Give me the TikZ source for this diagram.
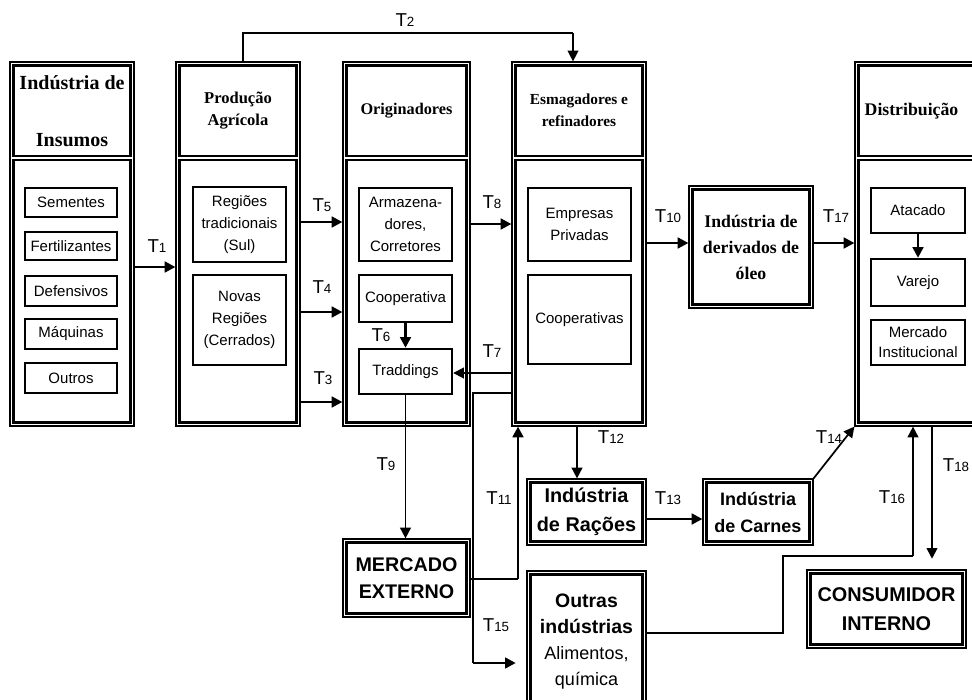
\documentclass[tikz,border=0pt]{standalone}
\usepackage{fontspec}
\setmainfont{Liberation Sans}
\newfontfamily\hdrfont{Liberation Serif}
\usetikzlibrary{arrows.meta}
\newcommand\tlab[1]{{\fontsize{14}{14}\selectfont T}{\fontsize{10}{10}\selectfont #1}}
\newcommand\bigb[1]{{\bfseries\fontsize{14.6}{21.5}\selectfont #1}}
\begin{document}
\begin{tikzpicture}[x=0.75pt,y=-0.75pt,
  bx/.style n args={4}{inner sep=0pt,at={({(#1+#3)/2},{(#2+#4)/2})},
    minimum width={(#3-#1)*0.75pt},minimum height={(#4-#2)*0.75pt}},
  obox/.style={draw,line width=0.9pt},
  ibox/.style={draw,line width=1.8pt,align=center},
  itm/.style={draw,line width=1.8pt,align=center,
    font=\fontsize{11.25}{16.5}\selectfont},
  hdr/.style={font=\hdrfont\bfseries\fontsize{#1}{16.5}\selectfont},
  tl/.style={inner sep=0pt},
  tip/.style={-{Triangle[length=8pt,width=8pt]}},
  arr/.style={line width=1.9pt,tip},
  thinl/.style={line width=0.9pt},
  thinarr/.style={line width=1pt,tip},
  medarr/.style={line width=1.3pt,tip}]
\useasboundingbox (0,0) rectangle (972,700);
\fill[white] (0,0) rectangle (972,700);
\clip (0,0) rectangle (972,700);

% ---- columns ----
\node[obox,bx={10}{62}{134}{426}] (ins) {};
\node[ibox,bx={13.5}{65.5}{130.5}{156},font=\hdrfont\bfseries\fontsize{15}{42.75}\selectfont] (insH) {Indústria de\\Insumos};
\node[ibox,bx={13.5}{160}{130.5}{422.5}] (insB) {};

\node[obox,bx={176}{62}{300}{426}] (prod) {};
\node[ibox,bx={179.5}{65.5}{296.5}{156},hdr=12.4] (prodH) {Produção\\Agrícola};
\node[ibox,bx={179.5}{160}{296.5}{422.5}] (prodB) {};

\node[obox,bx={343}{62}{470}{426}] (orig) {};
\node[ibox,bx={346.5}{65.5}{466.5}{156},hdr=12.2] (origH) {Originadores};
\node[ibox,bx={346.5}{160}{466.5}{422.5}] (origB) {};

\node[obox,bx={512}{62}{646}{426}] (esm) {};
\node[ibox,bx={515.5}{65.5}{642.5}{156},hdr=11.5] (esmH) {Esmagadores e\\refinadores};
\node[ibox,bx={515.5}{160}{642.5}{422.5}] (esmB) {};

\node[obox,bx={855}{62}{984}{426}] (dist) {};
\node[ibox,bx={858.5}{65.5}{980.5}{156},hdr=13.3] (distH) {Distribuição\hspace*{12pt}};
\node[ibox,bx={858.5}{160}{980.5}{422.5}] (distB) {};

% ---- items ----
\node[itm,bx={25}{188}{117}{217}] (sem) {Sementes};
\node[itm,bx={25}{232}{117}{260}] (fer) {Fertilizantes};
\node[itm,bx={25}{276}{117}{306}] (def) {Defensivos};
\node[itm,bx={25}{319}{117}{349}] (maq) {Máquinas};
\node[itm,bx={25}{363}{117}{393}] (outros) {Outros};

\node[itm,bx={193}{187}{286}{262}] (reg) {Regiões\\tradicionais\\(Sul)};
\node[itm,bx={193}{275}{286}{365}] (nov) {Novas\\Regiões\\(Cerrados)};

\node[itm,bx={359}{188}{452}{261}] (arm) {Armazena-\\dores,\\Corretores};
\node[itm,bx={359}{275}{452}{322}] (coop) {Cooperativa};
\node[itm,bx={359}{349}{452}{394}] (trad) {Traddings};

\node[itm,bx={528}{188}{631}{261}] (emp) {Empresas\\Privadas};
\node[itm,bx={528}{275}{631}{364}] (coops) {Cooperativas};

\node[itm,bx={871}{188}{965}{233}] (ata) {Atacado};
\node[itm,bx={871}{259}{965}{306}] (var) {Varejo};
\node[itm,bx={871}{320}{965}{365},font=\fontsize{11.25}{15}\selectfont] (merc) {Mercado\\Institucional};

% ---- standalone boxes ----
\node[obox,bx={689}{186}{813}{308}] (der) {};
\node[ibox,bx={692.5}{189.5}{809.5}{304.5},font=\hdrfont\bfseries\fontsize{13.3}{19.5}\selectfont] (derI) {Indústria de\\derivados de\\óleo};

\node[obox,bx={527}{479}{646}{545}] (rac) {};
\node[ibox,bx={530.5}{482.5}{642.5}{541.5},font=\bfseries\fontsize{14.9}{21.75}\selectfont] (racI) {Indústria\\de Rações};

\node[obox,bx={703}{479}{813}{545}] (car) {};
\node[ibox,bx={706.5}{482.5}{809.5}{541.5},font=\bfseries\fontsize{13.5}{20.25}\selectfont] (carI) {Indústria\\de Carnes};

\node[obox,bx={343}{539}{470}{617}] (mer) {};
\node[ibox,bx={346.5}{542.5}{466.5}{613.5},font=\bfseries\fontsize{14.8}{20.25}\selectfont] (merI) {MERCADO\\EXTERNO};

\node[obox,bx={527}{571}{646}{712}] (outr) {};
\node[ibox,bx={530.5}{574.5}{642.5}{708.5},font=\fontsize{13.5}{19.5}\selectfont] (outrI) {\bigb{Outras}\\\bigb{indústrias}\\Alimentos,\\química};

\node[obox,bx={807}{570}{966}{648}] (cons) {};
\node[ibox,bx={810.5}{573.5}{962.5}{644.5},font=\bfseries\fontsize{14.9}{21.75}\selectfont] (consI) {CONSUMIDOR\\INTERNO};

% ---- helper coordinates ----
\coordinate (y267) at (0,267);
\coordinate (y222) at (0,222);
\coordinate (y312) at (0,312);
\coordinate (y402) at (0,402);
\coordinate (y224) at (0,224);
\coordinate (y373) at (0,373);
\coordinate (y243) at (0,243);
\coordinate (y519) at (0,519);
\coordinate (c2a) at (243,33);
\coordinate (c2b) at (573,33);
\coordinate (c11) at (518,579);
\coordinate (c12) at (577,0);
\coordinate (c15a) at (473,393);
\coordinate (c15b) at (473,663);
\coordinate (c16a) at (783,633);
\coordinate (c16b) at (913,556);
\coordinate (c18) at (932,0);

% ---- connectors ----
\draw[arr] (ins.east |- y267) -- (prod.west |- y267);
\draw[thinl] (prod.north -| c2a) -- (c2a) -- (c2b);
\draw[thinarr] (c2b) -- (esm.north -| c2b);
\draw[arr] (prod.east |- y222) -- (orig.west |- y222);
\draw[arr] (prod.east |- y312) -- (orig.west |- y312);
\draw[arr] (prod.east |- y402) -- (orig.west |- y402);
\draw[arr] (coop.south) -- (trad.north);
\draw[medarr] (esm.west |- y373) -- (trad.east |- y373);
\draw[arr] (orig.east |- y224) -- (esm.west |- y224);
\draw[arr] (esm.east |- y243) -- (der.west |- y243);
\draw[arr] (der.east |- y243) -- (dist.west |- y243);
\draw[arr] (ata.south) -- (var.north);
\draw[medarr] (trad.south) -- (mer.north -| trad.south);
\draw[thinl] (mer.east |- c11) -- (c11);
\draw[arr] (c11) -- (esm.south -| c11);
\draw[medarr] (esm.south -| c12) -- (rac.north -| c12);
\draw[arr] (rac.east |- y519) -- (car.west |- y519);
\draw[medarr] (car.north east) -- (dist.south west);
\draw[thinl] (esm.west |- c15a) -- (c15a) -- (c15b);
\draw[arr,shorten >=8pt] (c15b) -- (outr.west |- c15b);
\draw[thinl] (outr.east |- c16a) -- (c16a) |- (c16b);
\draw[medarr] (c16b) -- (dist.south -| c16b);
\draw[medarr,shorten >=8pt] (dist.south -| c18) -- (cons.north -| c18);

% ---- labels ----
\node[tl] (t1) at (157,246) {\tlab{1}};
\node[tl] (t2) at (405,20) {\tlab{2}};
\node[tl] (t3) at (323,378) {\tlab{3}};
\node[tl] (t4) at (322,287) {\tlab{4}};
\node[tl] (t5) at (322,205) {\tlab{5}};
\node[tl] (t6) at (381,335) {\tlab{6}};
\node[tl] (t7) at (492,351) {\tlab{7}};
\node[tl] (t8) at (492,202) {\tlab{8}};
\node[tl] (t9) at (386,464) {\tlab{9}};
\node[tl] (t10) at (668,216) {\tlab{10}};
\node[tl] (t11) at (499,498) {\tlab{11}};
\node[tl] (t12) at (611,437) {\tlab{12}};
\node[tl] (t13) at (668,498) {\tlab{13}};
\node[tl] (t14) at (829,437) {\tlab{14}};
\node[tl] (t15) at (496,625) {\tlab{15}};
\node[tl] (t16) at (892,497) {\tlab{16}};
\node[tl] (t17) at (836,216) {\tlab{17}};
\node[tl] (t18) at (956,465) {\tlab{18}};
\end{tikzpicture}
\end{document}
